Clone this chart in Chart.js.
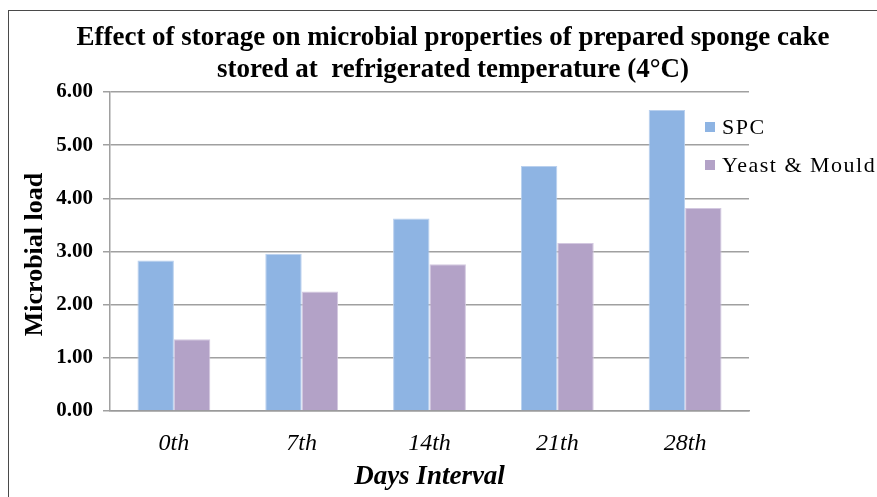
<!DOCTYPE html>
<html>
<head>
<meta charset="utf-8">
<script src="https://cdn.jsdelivr.net/npm/chart.js@4.4.0/dist/chart.umd.min.js"></script>
<style>
  html, body { margin: 0; padding: 0; background: #fff; overflow: hidden; }
  #wrap { position: relative; width: 877px; height: 497px; }
  #frame { position: absolute; left: 8px; top: 10px; width: 900px; height: 520px; border: 1.5px solid #4a4a4a; box-sizing: border-box; }
  #chart { position: absolute; left: 0; top: 0; }
</style>
</head>
<body>
<div id="wrap">
  <div id="frame"></div>
  <canvas id="chart" width="877" height="497"></canvas>
</div>
<script>
const dayLabels = ["0th", "7th", "14th", "21th", "28th"];
const spc = [2.83, 2.96, 3.62, 4.61, 5.66];
const yeastMould = [1.35, 2.25, 2.76, 3.16, 3.82];
const titleLines = [
  "Effect of storage on microbial properties of prepared sponge cake",
  "stored at  refrigerated temperature (4°C)"
];
const yTitle = "Microbial load";
const xTitle = "Days Interval";

const serif = "'Liberation Serif', 'Times New Roman', serif";

// title, y title and legend are drawn by hand
const extras = {
  id: "extras",
  afterDraw(chart) {
    const ctx = chart.ctx;
    ctx.save();
    ctx.fillStyle = "#000";
    ctx.textAlign = "center";
    ctx.textBaseline = "middle";
    ctx.font = "bold 27px " + serif;
    titleLines.forEach((t, i) => ctx.fillText(t, 453, 38 + i * 32));

    ctx.save();
    const a = chart.chartArea;
    ctx.translate(35, (a.top + a.bottom) / 2 + 3);
    ctx.rotate(-Math.PI / 2);
    ctx.font = "bold 26px " + serif;
    ctx.fillText(yTitle, 0, 0);
    ctx.restore();

    ctx.textAlign = "left";
    ctx.font = "22px " + serif;
    if ("letterSpacing" in ctx) ctx.letterSpacing = "1.5px";
    chart.data.datasets.forEach((ds, i) => {
      const y = 127 + i * 38;
      ctx.fillStyle = ds.backgroundColor;
      ctx.fillRect(705, y - 5, 10, 10);
      ctx.fillStyle = "#000";
      ctx.fillText(ds.label, 722, y + 1);
    });
    ctx.restore();
  }
};

const ctx = document.getElementById("chart").getContext("2d");
new Chart(ctx, {
  type: "bar",
  data: {
    labels: dayLabels,
    datasets: [
      {
        label: "SPC",
        data: spc,
        backgroundColor: "#8EB4E3",
        borderColor: "#B9D0EE",
        borderWidth: 1
      },
      {
        label: "Yeast & Mould",
        data: yeastMould,
        backgroundColor: "#B3A2C7",
        borderColor: "#D3C8E0",
        borderWidth: 1
      }
    ]
  },
  options: {
    responsive: false,
    animation: false,
    layout: { padding: { left: 0, right: 128, top: 92, bottom: 0 } },
    datasets: {
      bar: { categoryPercentage: 0.57, barPercentage: 1.0 }
    },
    plugins: {
      legend: { display: false },
      tooltip: { enabled: false },
      title: { display: false }
    },
    scales: {
      x: {
        grid: { display: false, drawTicks: false },
        border: { display: true, color: "#9a9a9a", width: 1.5 },
        ticks: {
          color: "#000",
          padding: 18,
          font: { family: serif, size: 24, style: "italic" }
        },
        title: {
          display: true,
          text: xTitle,
          color: "#000",
          font: { family: serif, size: 27, weight: "bold", style: "italic" },
          padding: { top: 0, bottom: 4 }
        },
        afterFit(scale) { scale.height = 86; }
      },
      y: {
        min: 0,
        max: 6,
        grid: { color: "#a0a0a0", lineWidth: 1.5, tickLength: 7 },
        border: { display: true, color: "#a0a0a0", width: 1.5 },
        ticks: {
          stepSize: 1,
          color: "#000",
          padding: 10,
          font: { family: serif, size: 21, weight: "bold" },
          callback: (v) => Number(v).toFixed(2)
        },
        afterFit(scale) { scale.width = 110; }
      }
    }
  },
  plugins: [extras]
});
</script>
</body>
</html>
